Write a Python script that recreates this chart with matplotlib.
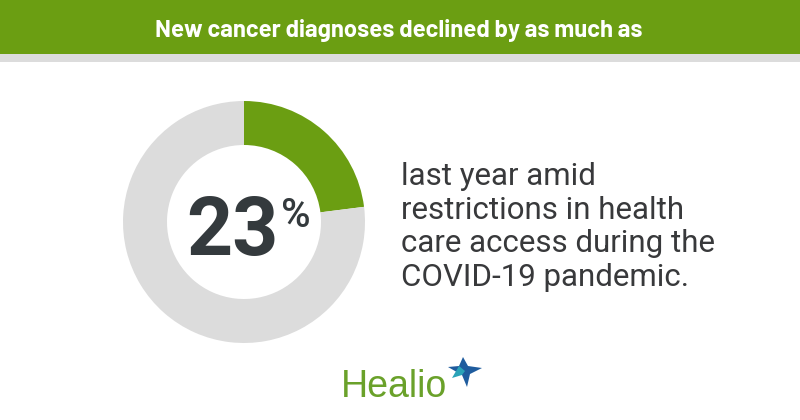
import matplotlib
matplotlib.use("Agg")
import matplotlib.pyplot as plt
from matplotlib.patches import Rectangle, Polygon

# ---- data ----
title = "New cancer diagnoses declined by as much as"
share_values = [23, 77]
share_colors = ["#6b9e12", "#dcdcdc"]
big_number = "23"
big_suffix = "%"
body_lines = ["last year amid", "restrictions in health",
              "care access during the", "COVID-19 pandemic."]
brand = "Healio"

W, H = 800, 420
fig = plt.figure(figsize=(W / 100, H / 100), dpi=100)
fig.patch.set_facecolor("white")

# background / decoration axes in pixel coordinates
bg = fig.add_axes([0, 0, 1, 1])
bg.set_xlim(0, W)
bg.set_ylim(H, 0)
bg.axis("off")
bg.add_patch(Rectangle((0, 0), W, 54, color="#6b9e12", lw=0))
bg.add_patch(Rectangle((0, 54), W, 8, color="#dcdcdc", lw=0))

bg.text(399, 37.5, title, ha="center", va="baseline", color="white",
        fontsize=17.2, fontweight="bold",
        family=["Barlow", "Roboto Condensed", "DejaVu Sans"])

# donut
cx, cy, R, r = 244, 222, 121, 77
box = R + 1
ax = fig.add_axes([(cx - box) / W, (H - cy - box) / H, 2 * box / W, 2 * box / H])
ax.pie(share_values, colors=share_colors, startangle=90, counterclock=False,
       radius=R / box, wedgeprops=dict(width=(R - r) / box, linewidth=0))
ax.set_xlim(-1, 1)
ax.set_ylim(-1, 1)
ax.set_aspect("equal")
ax.axis("off")

dark = "#343a3d"
bg.text(279, 255, big_number, ha="right", va="baseline", color=dark,
        fontsize=58, fontweight="bold", family=["Roboto", "DejaVu Sans"])
bg.text(281, 227, big_suffix, ha="left", va="baseline", color=dark,
        fontsize=29, fontweight="medium", family=["Roboto", "DejaVu Sans"])

# body text
y0, pitch = 185, 33.7
for i, line in enumerate(body_lines):
    bg.text(401, y0 + i * pitch, line, ha="left", va="baseline", color="#38393b",
            fontsize=22.5, family=["Roboto", "DejaVu Sans"])

# brand logo
bg.text(341, 397, brand, ha="left", va="baseline", color="#6aa12a",
        fontsize=27, family=["Liberation Sans", "DejaVu Sans"])
star = [(463, 357), (468, 366), (482, 368), (470, 374), (467, 387),
        (462, 375), (448, 367), (459, 366)]
bg.add_patch(Polygon(star, closed=True, color="#1f5c9e", lw=0))
bg.add_patch(Polygon([(459, 366), (465, 371), (462, 375), (452, 378)],
                     closed=True, color="#2aa3b8", lw=0))

fig.savefig("out.png", dpi=100)
